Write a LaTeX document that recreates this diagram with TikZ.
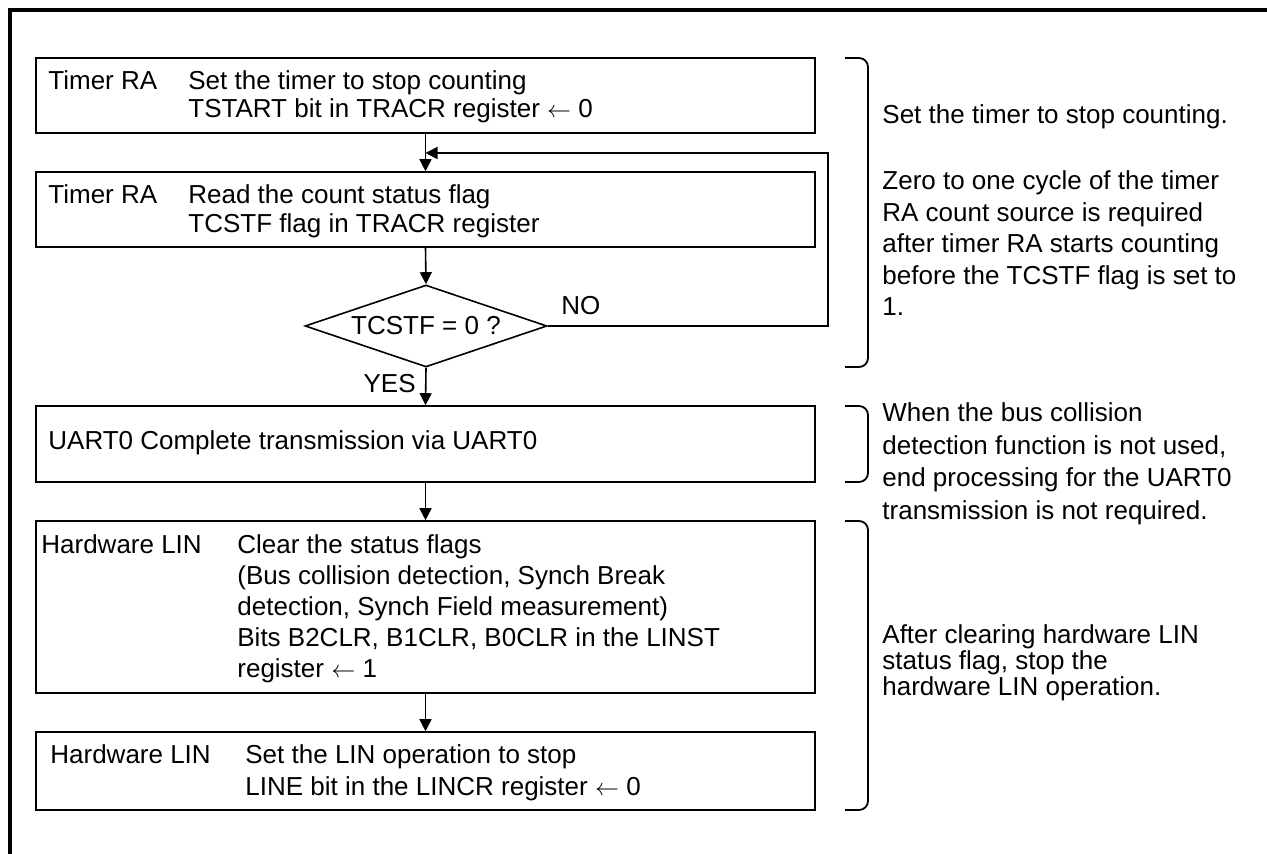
\documentclass[tikz,border=0pt]{standalone}
\usepackage{fontspec}
\setmainfont{Liberation Sans}
\usetikzlibrary{arrows.meta,shapes.geometric}
\newcommand{\txtlines}[2]{\vtop{\baselineskip=#1\lineskiplimit=-1000pt\lineskip=0pt\halign{##\hfil\cr#2\crcr}}}
\newcommand{\larr}{$\leftarrow$}
\begin{document}
\begin{tikzpicture}[x=0.5pt,y=-0.5pt,
  box/.style={draw, line width=0.8pt, rectangle, minimum width=389.5pt, inner sep=0pt},
  txt/.style={anchor=base west, inner sep=0pt, font=\fontsize{13}{15}\selectfont},
  arr/.style={-{Triangle[length=6pt,width=6pt]}, line width=0.8pt},
  brk/.style={line width=0.9pt, rounded corners=4.5pt},
  frame/.style={line width=1.6pt}]
\clip (0,0) rectangle (1267,854);
\useasboundingbox (0,0) rectangle (1267,854);
% outer frame (top and left edges visible)
\draw[frame] (1290,10) -- (10,10) -- (10,880);
% boxes
\node[box, minimum height=37.5pt] (b1) at (425.5,95.5) {};
\node[txt] (b1a) at (48,90) {Timer RA};
\node[txt] (b1b) at (188,90) {\txtlines{14pt}{Set the timer to stop counting\cr TSTART bit in TRACR register \larr{} 0}};
\node[box, minimum height=37.5pt] (b2) at (425.5,209.5) {};
\node[txt] (b2a) at (48,204) {Timer RA};
\node[txt] (b2b) at (188,204) {\txtlines{14.5pt}{Read the count status flag\cr TCSTF flag in TRACR register}};
\node[diamond, draw, line width=0.8pt, shape aspect=2.95, minimum width=121pt, minimum height=41pt, inner sep=0pt, font=\fontsize{13}{15}\selectfont] (d) at (426,326) {TCSTF = 0 ?};
\node[box, minimum height=38pt] (b3) at (425.5,444) {};
\node[txt] (b3a) at (48,450) {UART0 Complete transmission via UART0};
\node[box, minimum height=86pt] (b4) at (425.5,607) {};
\node[txt] (b4a) at (41,553) {Hardware LIN};
\node[txt] (b4b) at (237,553) {\txtlines{15.5pt}{Clear the status flags\cr (Bus collision detection, Synch Break\cr detection, Synch Field measurement)\cr Bits B2CLR, B1CLR, B0CLR in the LINST\cr register \larr{} 1}};
\node[box, minimum height=39pt] (b5) at (425.5,771) {};
\node[txt] (b5a) at (50,763) {Hardware LIN};
\node[txt] (b5b) at (245,763) {\txtlines{16pt}{Set the LIN operation to stop\cr LINE bit in the LINCR register \larr{} 0}};
% labels
\node[txt] (no) at (561,315) {NO};
\node[txt, anchor=base east] (yes) at (416,393) {YES};
% connectors
\draw[arr] (b1.south) -- (b2.north);
\draw[arr] (b2.south) -- (d.north);
\draw[arr] (d.south) -- (b3.north);
\draw[arr] (b3.south) -- (b4.north);
\draw[arr] (b4.south) -- (b5.north);
\coordinate (lp) at (828,153);
\coordinate (jn) at (b1.south |- lp);
\draw[arr] (d.east) -| (lp) -- (jn);
% braces
\draw[brk] (845,58) -| (868,367) -- (845,367);
\draw[brk] (845,406) -| (868,482) -- (845,482);
\draw[brk] (845,521) -| (868,810) -- (845,810);
% notes
\node[txt] (n1) at (882,124) {Set the timer to stop counting.};
\node[txt] (n2) at (882,190) {\txtlines{15.75pt}{Zero to one cycle of the timer\cr RA count source is required\cr after timer RA starts counting\cr before the TCSTF flag is set to\cr 1.}};
\node[txt] (n3) at (882,422) {\txtlines{16.25pt}{When the bus collision\cr detection function is not used,\cr end processing for the UART0\cr transmission is not required.}};
\node[txt] (n4) at (882,643) {\txtlines{13pt}{After clearing hardware LIN\cr status flag, stop the\cr hardware LIN operation.}};
\end{tikzpicture}
\end{document}
